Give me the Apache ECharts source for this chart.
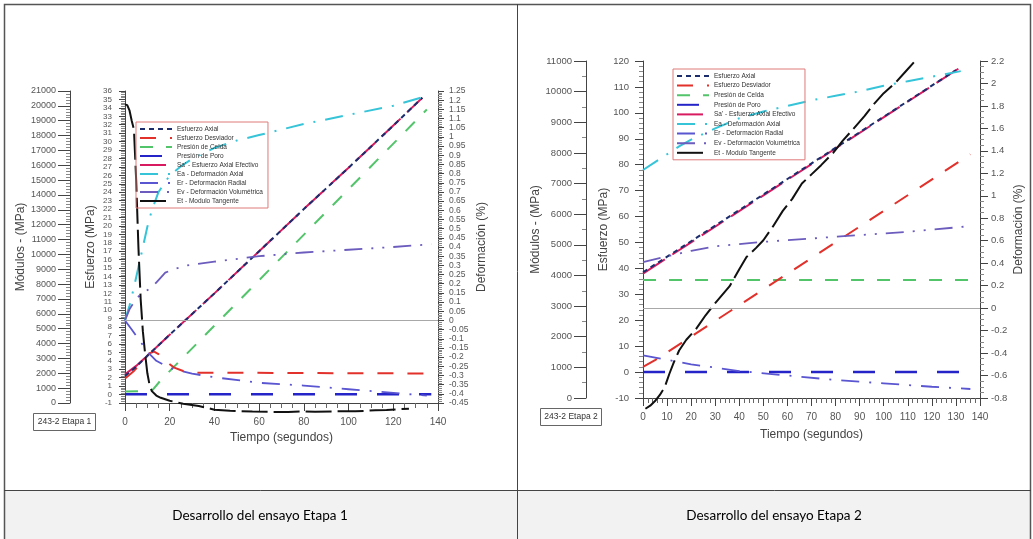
<!DOCTYPE html>
<html><head><meta charset="utf-8">
<script src="https://cdn.jsdelivr.net/npm/echarts@6/dist/echarts.min.js"></script>
<style>html,body{margin:0;padding:0;background:#fff}#c{width:1033px;height:539px}</style>
</head><body><div id="c"></div>
<script>
// ---------- names ----------
const N_AX = 'Esfuerzo Axial', N_DE = 'Esfuerzo Desviador', N_CE = 'Presión de Celda', N_PO = 'Presión de Poro',
      N_SA = "Sa' - Esfuerzo Axial Efectivo", N_EA = 'Ea - Deformación Axial', N_ER = 'Er - Deformación Radial',
      N_EV = 'Ev - Deformación Volumétrica', N_ET = 'Et - Modulo Tangente';
const legendNames = [N_AX, N_DE, N_CE, N_PO, N_SA, N_EA, N_ER, N_EV, N_ET];
const captions = ['Desarrollo del ensayo Etapa 1', 'Desarrollo del ensayo Etapa 2'];
const tags = ['243-2 Etapa 1', '243-2 Etapa 2'];

// ---------- Etapa 1 (time s) ----------
const e1AxT = [0, 5, 10, 20, 40, 60, 80, 100, 120, 133];
const e1AxV = [2.2, 3.3, 4.6, 7.1, 12.0, 17.0, 22.0, 26.9, 31.9, 35.2];
const e1SaT = [0, 5, 10, 20, 40, 60, 80, 100, 120, 133];
const e1SaV = [2.4, 3.4, 4.6, 7.1, 12.0, 17.0, 22.0, 26.9, 31.9, 35.2];
const e1DeT = [0, 4, 8, 11, 13, 15, 18, 22, 26, 30, 137];
const e1DeV = [1.9, 2.8, 4.0, 4.9, 5.1, 4.8, 4.0, 3.2, 2.8, 2.6, 2.5];
const e1CeT = [0, 12, 16, 135];
const e1CeV = [0.35, 0.45, 1.7, 33.8];
const e1PoT = [0, 137];
const e1PoV = [0.05, 0.05];
const e1EaT = [0, 2, 4, 6, 8, 10, 12, 15, 20, 25, 30, 40, 50, 60, 80, 100, 120, 134];
const e1EaV = [0, 0.08, 0.18, 0.29, 0.40, 0.51, 0.60, 0.70, 0.79, 0.84, 0.88, 0.94, 0.98, 1.01, 1.07, 1.12, 1.17, 1.22];
const e1ErT = [0, 3, 6, 10, 14, 20, 30, 40, 60, 80, 100, 120, 135];
const e1ErV = [0, -0.05, -0.1, -0.17, -0.22, -0.26, -0.29, -0.31, -0.34, -0.355, -0.375, -0.395, -0.41];
const e1EvT = [0, 2, 5, 8, 12, 15, 18, 22, 28, 40, 60, 80, 100, 120, 137];
const e1EvV = [0, 0.06, 0.12, 0.15, 0.18, 0.22, 0.26, 0.28, 0.30, 0.32, 0.35, 0.37, 0.385, 0.40, 0.415];
const e1EtT = [0, 1, 2, 3, 4, 5, 6, 7, 8, 9, 10, 11, 12, 14, 16, 20, 26, 33, 40, 47, 57, 67, 73, 80, 85, 95, 103, 112, 117, 127];
const e1EtV = [20100, 20050, 19700, 19000, 18400, 15000, 10500, 7000, 4800, 3300, 2000, 1200, 800, 500, 350, 150, -50, -200, -450, -520, -580, -600, -600, -560, -590, -560, -560, -490, -470, -380];

// ---------- Etapa 2 (time s) ----------
const e2AxT = [0, 130];
const e2AxV = [38.5, 116.5];
const e2SaT = [0, 131];
const e2SaV = [38.0, 117.0];
const e2DeT = [0, 5, 136];
const e2DeV = [2.0, 4.6, 84.0];
const e2CeT = [0, 137];
const e2CeV = [35.5, 35.5];
const e2PoT = [0, 137];
const e2PoV = [0, 0];
const e2EaT = [0, 5, 10, 15, 20, 30, 40, 50, 60, 70, 80, 90, 100, 110, 120, 132];
const e2EaV = [1.23, 1.30, 1.37, 1.44, 1.50, 1.60, 1.69, 1.75, 1.80, 1.85, 1.89, 1.93, 1.98, 2.02, 2.06, 2.11];
const e2ErT = [0, 10, 20, 40, 60, 80, 100, 120, 136];
const e2ErV = [-0.42, -0.46, -0.50, -0.56, -0.60, -0.64, -0.67, -0.70, -0.72];
const e2EvT = [0, 10, 20, 30, 50, 70, 90, 110, 136];
const e2EvV = [0.41, 0.46, 0.51, 0.55, 0.59, 0.62, 0.65, 0.68, 0.73];
const e2EtT = [1, 3, 5, 7, 9, 11, 13, 15, 18, 22, 26, 30, 36, 40, 43, 47, 50, 54, 58, 62, 66, 70, 74, 79, 83, 87, 92, 96, 100, 105, 109, 113];
const e2EtV = [-350, -250, -100, 100, 350, 800, 1200, 1550, 1900, 2250, 2700, 3100, 3650, 4200, 4600, 4900, 5150, 5600, 6100, 6500, 7000, 7300, 7600, 8000, 8400, 8750, 9200, 9600, 9950, 10300, 10650, 11000];

// ---------- axis ranges [min, max, interval] ----------
const e1Time = [0, 140, 20], e1Esf = [-1, 36, 1], e1Mod = [0, 21000, 1000], e1Def = [-0.45, 1.25, 0.05];
const e2Time = [0, 140, 10], e2Esf = [-10, 120, 10], e2Mod = [0, 11000, 1000], e2Def = [-0.8, 2.2, 0.2];

// ---------- styles ----------
const styles = {};
styles[N_AX] = {color: '#1c2d6e', width: 2, type: [5, 4]};
styles[N_DE] = {color: '#e2302b', width: 2, type: [16, 14]};
styles[N_CE] = {color: '#52c46a', width: 2, type: [13, 13]};
styles[N_PO] = {color: '#2424c8', width: 2.5, type: [22, 20]};
styles[N_SA] = {color: '#d81b60', width: 2, type: [26, 9]};
styles[N_EA] = {color: '#36c4d8', width: 2, type: [18, 10, 2, 10]};
styles[N_ER] = {color: '#5a55d0', width: 1.8, type: [18, 10, 2, 10]};
styles[N_EV] = {color: '#6b5cbd', width: 1.8, type: [18, 9, 2, 9, 2, 9]};
styles[N_ET] = {color: '#111111', width: 2, type: [26, 6]};

const zip = (t, v) => t.map((x, i) => [x, v[i]]);
const FONT = 'Liberation Sans';
const lblCol = '#555';
const axCol = '#444';

function mk(name, xi, yi, t, v, extra) {
  return Object.assign({
    name, type: 'line', xAxisIndex: xi, yAxisIndex: yi, data: zip(t, v),
    showSymbol: false, symbol: 'none', smooth: false, animation: false, silent: true,
    lineStyle: Object.assign({}, styles[name]), itemStyle: {color: styles[name].color}
  }, extra || {});
}
function zeroLine() {
  return {silent: true, symbol: ['none', 'none'], label: {show: false},
    lineStyle: {color: '#a8a8a8', type: 'solid', width: 1}, data: [{yAxis: 0}]};
}

function yAx(gi, r, pos, offset, name, nameGap, fs, tickLen, minorSplit, margin) {
  return {
    type: 'value', gridIndex: gi, position: pos, offset: offset, min: r[0], max: r[1], interval: r[2],
    name: name, nameLocation: 'middle', nameGap: nameGap,
    nameTextStyle: {fontFamily: FONT, fontSize: 12, color: '#444'},
    axisLine: {show: true, lineStyle: {color: axCol, width: 1}},
    axisTick: {show: true, length: tickLen, lineStyle: {color: axCol}},
    minorTick: {show: minorSplit > 0, splitNumber: minorSplit || 2, length: 4, lineStyle: {color: '#888'}},
    splitLine: {show: false},
    axisLabel: {fontFamily: FONT, fontSize: fs, color: lblCol, margin: margin,
      formatter: (val) => String(Math.round(val * 1000) / 1000)}
  };
}
function xAx(gi, r, fs, minorSplit, nameGap) {
  return {
    type: 'value', gridIndex: gi, min: r[0], max: r[1], interval: r[2],
    name: 'Tiempo (segundos)', nameLocation: 'middle', nameGap: nameGap,
    nameTextStyle: {fontFamily: FONT, fontSize: 12, color: '#444'},
    axisLine: {show: true, onZero: false, lineStyle: {color: axCol}},
    axisTick: {show: true, length: 8, lineStyle: {color: axCol}},
    minorTick: {show: true, splitNumber: minorSplit, length: 5, lineStyle: {color: '#666'}},
    splitLine: {show: false},
    axisLabel: {fontFamily: FONT, fontSize: fs, color: lblCol, margin: 14}
  };
}
function legendAt(left, top, gap) {
  return {
    show: true, orient: 'vertical', left: left, top: top, data: legendNames, selectedMode: false,
    itemWidth: 32, itemHeight: 6, itemGap: gap, padding: [3, 5, 3, 3],
    itemStyle: {opacity: 0, borderWidth: 0},
    borderColor: '#e07a7a', borderWidth: 1, backgroundColor: 'transparent',
    textStyle: {fontFamily: FONT, fontSize: 6.5, color: '#333', lineHeight: 8}
  };
}

const series = [
  // Etapa 1
  mk(N_CE, 0, 0, e1CeT, e1CeV),
  mk(N_PO, 0, 0, e1PoT, e1PoV),
  mk(N_DE, 0, 0, e1DeT, e1DeV),
  mk(N_SA, 0, 0, e1SaT, e1SaV),
  mk(N_AX, 0, 0, e1AxT, e1AxV),
  mk(N_EA, 0, 2, e1EaT, e1EaV, {markLine: zeroLine()}),
  mk(N_ER, 0, 2, e1ErT, e1ErV),
  mk(N_EV, 0, 2, e1EvT, e1EvV),
  mk(N_ET, 0, 1, e1EtT, e1EtV, {clip: false}),
  // Etapa 2
  mk(N_CE, 1, 3, e2CeT, e2CeV),
  mk(N_PO, 1, 3, e2PoT, e2PoV),
  mk(N_DE, 1, 3, e2DeT, e2DeV),
  mk(N_SA, 1, 3, e2SaT, e2SaV),
  mk(N_AX, 1, 3, e2AxT, e2AxV),
  mk(N_EA, 1, 5, e2EaT, e2EaV, {markLine: zeroLine()}),
  mk(N_ER, 1, 5, e2ErT, e2ErV),
  mk(N_EV, 1, 5, e2EvT, e2EvV),
  mk(N_ET, 1, 4, e2EtT, e2EtV, {clip: false})
];

function tagBox(x, y, w, h, text) {
  return {type: 'group', left: x, top: y, z: 100, children: [
    {type: 'rect', shape: {x: 0, y: 0, width: w, height: h}, style: {fill: '#fff', stroke: '#666', lineWidth: 1}},
    {type: 'text', x: w / 2, y: h / 2, style: {text: text, fontFamily: FONT, fontSize: 8.5, fill: '#333', align: 'center', verticalAlign: 'middle'}}
  ]};
}

const option = {
  backgroundColor: '#ffffff',
  animation: false,
  grid: [
    {left: 125, top: 91, width: 313, height: 312, containLabel: false},
    {left: 643, top: 61, width: 337, height: 337, containLabel: false}
  ],
  xAxis: [xAx(0, e1Time, 10, 4, 28), xAx(1, e2Time, 10, 5, 31)],
  yAxis: [
    yAx(0, e1Esf, 'left', 0, 'Esfuerzo (MPa)', 28, 8, 6, 5, 13),
    yAx(0, e1Mod, 'left', 55, 'Módulos - (MPa)', 42, 9, 12, 5, 14),
    yAx(0, e1Def, 'right', 0, 'Deformación (%)', 38, 8.5, 6, 5, 11),
    yAx(1, e2Esf, 'left', 0, 'Esfuerzo (MPa)', 33, 9.5, 8, 5, 14),
    yAx(1, e2Mod, 'left', 57, 'Módulos - (MPa)', 40, 9.5, 12, 2, 14),
    yAx(1, e2Def, 'right', 0, 'Deformación (%)', 33, 9.5, 8, 4, 11)
  ],
  legend: [legendAt(136, 122, 1), legendAt(673, 69, 1.6)],
  series: series,
  graphic: [
    {type: 'rect', z: -10, shape: {x: 4, y: 490, width: 1026, height: 49}, style: {fill: '#f2f2f2'}},
    {type: 'rect', z: 50, shape: {x: 4.5, y: 4.5, width: 1026, height: 540}, style: {fill: 'none', stroke: '#555', lineWidth: 1.5}},
    {type: 'line', z: 50, shape: {x1: 517.5, y1: 4, x2: 517.5, y2: 539}, style: {stroke: '#444', lineWidth: 1}},
    {type: 'line', z: 50, shape: {x1: 4, y1: 490.5, x2: 1031, y2: 490.5}, style: {stroke: '#444', lineWidth: 1}},
    {type: 'text', z: 60, x: 260, y: 516, style: {text: captions[0], fontFamily: 'Lato', fontSize: 13.5, fill: '#000', align: 'center', verticalAlign: 'middle'}},
    {type: 'text', z: 60, x: 774, y: 516, style: {text: captions[1], fontFamily: 'Lato', fontSize: 13.5, fill: '#000', align: 'center', verticalAlign: 'middle'}},
    tagBox(33, 413, 62, 17, tags[0]),
    tagBox(540, 408, 61, 17, tags[1])
  ]
};
const chart = echarts.init(document.getElementById('c'), null, {renderer: 'canvas'});
chart.setOption(option);
</script>
</body></html>
